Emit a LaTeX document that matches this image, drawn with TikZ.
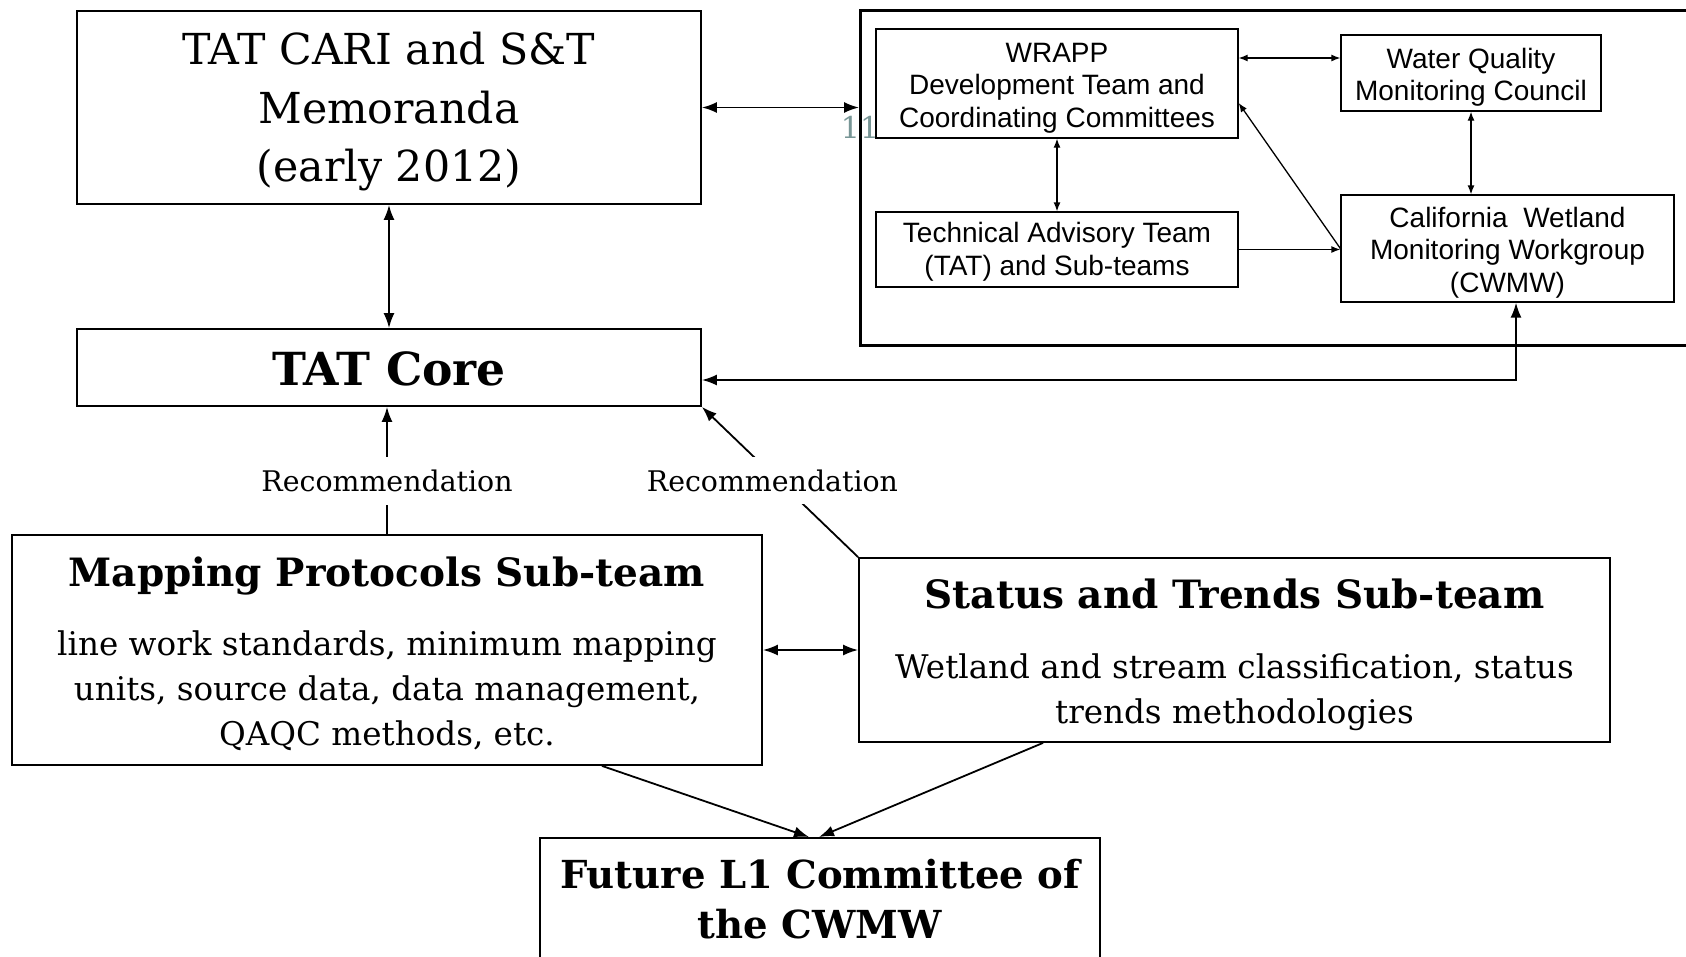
\documentclass[tikz,border=0pt]{standalone}
\usepackage{fontspec}
\setmainfont{DejaVu Serif}
\newfontfamily\arialfont{Liberation Sans}
\usetikzlibrary{arrows.meta}

\definecolor{slidenum}{RGB}{120,150,150}
% taller first line, pushes a box's text a little down
\newcommand{\topgap}[1]{\rule{0pt}{#1}}

\begin{document}
\begin{tikzpicture}[x=1pt,y=-1pt,
    box/.style={draw,line width=1.8pt,fill=white,align=center,inner sep=0pt},
    sbox/.style={draw,line width=1.3pt,fill=white,align=center,inner sep=0pt,
        font=\arialfont\fontsize{28}{32.3}\selectfont},
    big/.style={-{Latex[length=15pt,width=11pt]},line width=1.8pt},
    bigboth/.style={{Latex[length=15pt,width=11pt]}-{Latex[length=15pt,width=11pt]},line width=1.8pt},
    sboth/.style={{Latex[length=9pt,width=7pt]}-{Latex[length=9pt,width=7pt]},line width=1.3pt},
    sone/.style={-{Latex[length=9pt,width=7pt]},line width=1.3pt},
    rec/.style={fill=white,inner xsep=4pt,inner ysep=13pt,font=\fontsize{28.4}{32}\selectfont},
    body/.style={font=\fontsize{32.6}{45}\selectfont}]
    \clip (0,0) rectangle (1686,956);

    % the state bodies, framed
    \node[draw,line width=2.6pt,minimum width=900,minimum height=335,anchor=north west] (frame) at (859,9) {};
    \node[text=slidenum,font=\fontsize{30}{30}\selectfont] (num) at (860,127) {11};

    \node[sbox,minimum width=362,minimum height=109] (wrapp) at (1057,83.5) {\topgap{28.5pt}WRAPP\\Development Team and\\Coordinating Committees};
    \node[sbox,minimum width=260,minimum height=76] (wq) at (1471,73) {\topgap{28.5pt}Water Quality\\Monitoring Council};
    \node[sbox,minimum width=362,minimum height=75] (tat) at (1057,249.5) {\topgap{25pt}Technical Advisory Team\\(TAT) and Sub-teams};
    \node[sbox,minimum width=333,minimum height=107] (cwmw) at (1507.5,248.5) {\topgap{28.5pt}California\ \ Wetland\\Monitoring Workgroup\\(CWMW)};

    \draw[sboth] ([yshift=15]wq.west) -- ([yshift=15]wq.west -| wrapp.east);
    \draw[sboth] (wrapp.south) -- (tat.north);
    \draw[sboth] (wq.south) -- (wq.south |- cwmw.north);
    \draw[sone] (tat.east) -- (tat.east -| cwmw.west);
    \draw[sone] (cwmw.west) -- ([yshift=-19.5]wrapp.east);

    % left column
    \node[box,minimum width=624,minimum height=193,font=\fontsize{42.7}{58.6}\selectfont] (cari) at (389,107.5) {\topgap{41pt}TAT CARI and S\&T\\Memoranda\\(early 2012)};
    \node[box,minimum width=624,minimum height=77,font=\bfseries\fontsize{45.6}{50}\selectfont] (core) at (389,367.5) {\topgap{37pt}TAT Core};

    \draw[bigboth] (cari.south) -- (core.north);
    \draw[bigboth] (cari.east) -- (cari.east -| frame.west);
    \draw[bigboth] ([xshift=8.5]cwmw.south) |- ([yshift=-12.5]core.east);

    % the two sub-teams
    \node[box,minimum width=750,minimum height=230,body] (mapping) at (387,650)
        {{\bfseries\fontsize{39}{45}\selectfont\topgap{38pt}Mapping Protocols Sub-team}\\[24pt]
         line work standards, minimum mapping\\units, source data, data management,\\QAQC methods, etc.};
    \node[box,minimum width=751,minimum height=184,body] (status) at (1234.5,650)
        {{\bfseries\fontsize{39}{45}\selectfont\topgap{39pt}Status and Trends Sub-team}\\[25pt]
         Wetland and stream classification, status\\trends methodologies};

    \draw[big] (mapping.north) -- node[rec,pos=0.42] {Recommendation} (mapping.north |- core.south);
    \draw[big] (status.north west) -- node[rec,pos=0.51,xshift=-6] {Recommendation} (core.south east);
    \draw[bigboth] (mapping.east) -- (status.west);

    \node[box,anchor=north,minimum width=560,minimum height=122,font=\bfseries\fontsize{38.6}{50.5}\selectfont] (future) at (820,837) {Future L1 Committee of\\the CWMW};

    \draw[big] ([xshift=215]mapping.south) -- ([xshift=-11]future.north);
    \draw[big] ([xshift=-191.5]status.south) -- ([xshift=-1]future.north);
\end{tikzpicture}
\end{document}
